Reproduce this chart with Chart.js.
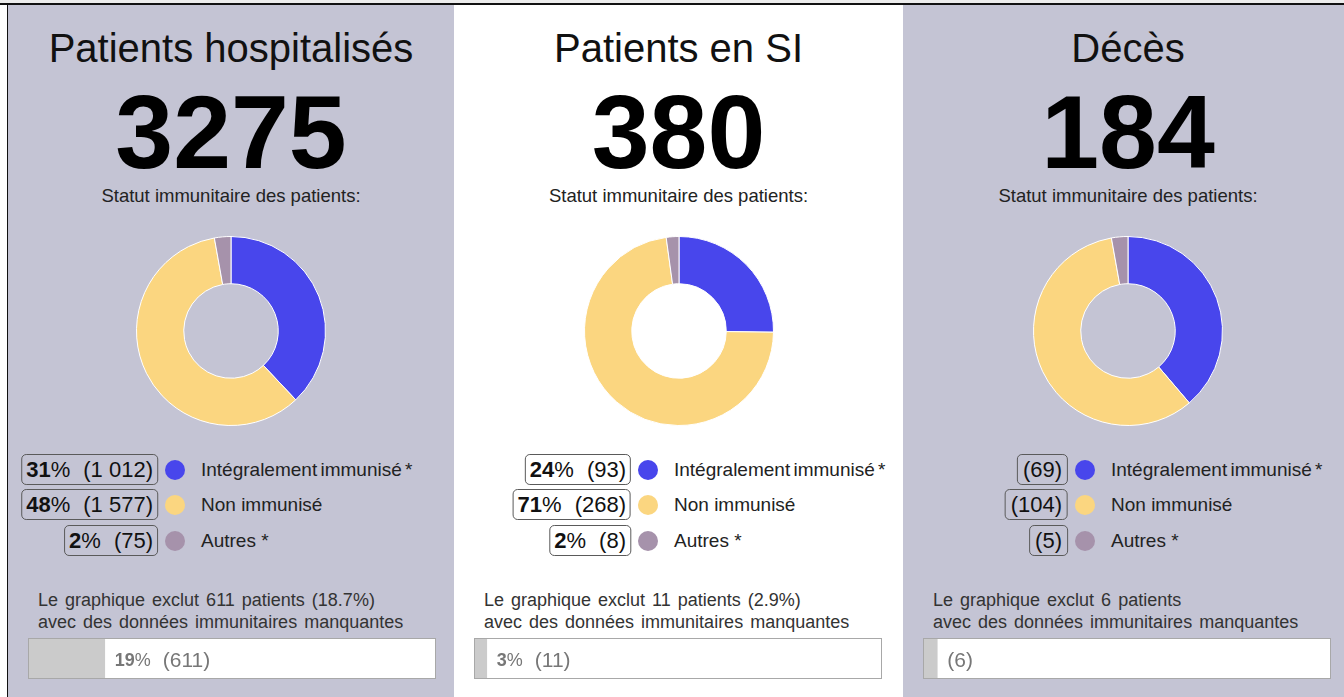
<!DOCTYPE html>
<html>
<head>
<meta charset="utf-8">
<script src="https://cdn.jsdelivr.net/npm/chart.js@4.4.0/dist/chart.umd.min.js"></script>
<style>
  body { margin: 0; width: 1344px; height: 697px; overflow: hidden; background: #ececec; position: relative;
         font-family: "Liberation Sans", Arial, sans-serif; }
  #topline { position: absolute; left: 0; top: 3px; width: 1344px; height: 2px; background: #111; }
  #leftwhite { position: absolute; left: 0; top: 5px; width: 7px; height: 692px; background: #fff; }
  #leftline { position: absolute; left: 7px; top: 3px; width: 1px; height: 694px; background: #111; }
  .panel { position: absolute; top: 5px; height: 692px; overflow: hidden; }
  .title { position: absolute; left: 0; right: 0; text-align: center; font-size: 40px; line-height: 1; color: #111; top: 23px; }
  .big { position: absolute; left: 0; right: 0; text-align: center; font-size: 104px; font-weight: bold; line-height: 80px; height: 80px; color: #000; top: 87px; }
  .sub { position: absolute; left: 0; right: 0; text-align: center; font-size: 18.5px; line-height: 1; color: #222; top: 182px; }
  .donut { position: absolute; }
  .row { position: absolute; height: 32px; }
  .box { position: absolute; top: 0; height: 29px; border: 1.5px solid #5a5a5a; border-radius: 5px; padding: 0 4px;
         font-size: 22px; line-height: 29px; color: #111; white-space: nowrap; transform: translateX(-100%); }
  .box b { font-weight: bold; }
  .dot { position: absolute; top: 6px; width: 20px; height: 20px; border-radius: 50%; }
  .lab { position: absolute; top: 0; font-size: 19px; line-height: 32px; color: #222; white-space: nowrap; }
  .note { position: absolute; left: 30px; top: 585px; font-size: 18px; line-height: 21.5px; color: #333; word-spacing: 2px; white-space: nowrap; }
  .barbox { position: absolute; left: 20px; top: 633px; width: 406px; height: 39px; border: 1.5px solid #a8a8a8; background: #fff; }
</style>
</head>
<body>
<div id="topline"></div>
<div id="leftwhite"></div>
<div id="leftline"></div>
<script>
// données
const panelTitles = ['Patients hospitalisés', 'Patients en SI', 'Décès'];
const totals = [3275, 380, 184];
const categories = ['Intégralement immunisé *', 'Non immunisé', 'Autres *'];
const hospCounts = [1012, 1577, 75];
const siCounts = [93, 268, 8];
const decesCounts = [69, 104, 5];
const hospPct = [31, 48, 2];
const siPct = [24, 71, 2];
const decesPct = [null, null, null];
const missingCounts = [611, 11, 6];
const missingPct = [19, 3, null];
const missingPctText = ['18.7%', '2.9%', null];

const counts = [hospCounts, siCounts, decesCounts];
const pcts = [hospPct, siPct, decesPct];
const colors = ['#4846ec', '#fbd680', '#a692ab'];

// mise en page
const panelLeft = [8, 454, 903];
const panelWidth = [446, 449, 450];
const panelBg = ['#c4c4d4', '#ffffff', '#c4c4d4'];
const dotX = [167, 194, 182];
const rowTop = [448.5, 484, 519.5];

function fmt(n) {
    return String(n).replace(/\B(?=(\d{3})+(?!\d))/g, '\u00a0');
}

for (let p = 0; p < 3; p++) {
    let panel = document.createElement('div');
    panel.className = 'panel';
    panel.style.left = panelLeft[p] + 'px';
    panel.style.width = panelWidth[p] + 'px';
    panel.style.background = panelBg[p];
    document.body.appendChild(panel);

    panel.innerHTML =
        '<div class="title">' + panelTitles[p] + '</div>' +
        '<div class="big">' + totals[p] + '</div>' +
        '<div class="sub">Statut immunitaire des patients:</div>';

    // anneau
    let c = document.createElement('canvas');
    c.className = 'donut';
    c.width = 190; c.height = 190;
    c.style.left = (panelWidth[p] / 2 - 95) + 'px';
    c.style.top = '231px';
    panel.appendChild(c);
    new Chart(c.getContext('2d'), {
        type: 'doughnut',
        data: {
            labels: categories,
            datasets: [{
                data: counts[p],
                backgroundColor: colors,
                borderColor: '#ffffff',
                borderWidth: 1
            }]
        },
        options: {
            responsive: false,
            animation: false,
            cutout: '50%',
            events: [],
            plugins: { legend: { display: false }, tooltip: { enabled: false } }
        }
    });

    // légende
    for (let i = 0; i < categories.length; i++) {
        let row = document.createElement('div');
        row.className = 'row';
        row.style.top = rowTop[i] + 'px';
        row.style.left = '0px';
        row.style.width = panelWidth[p] + 'px';
        let txt = '';
        if (pcts[p][i] !== null) {
            txt += '<b>' + pcts[p][i] + '</b>%<span style="margin-left:13px">(' + fmt(counts[p][i]) + ')</span>';
        } else {
            txt += '<span style="padding:0 1px">(' + fmt(counts[p][i]) + ')</span>';
        }
        row.innerHTML =
            '<div class="box" style="left:' + (dotX[p] - 17) + 'px">' + txt + '</div>' +
            '<div class="dot" style="left:' + (dotX[p] - 10) + 'px;background:' + colors[i] + '"></div>' +
            '<div class="lab" style="left:' + (dotX[p] + 26) + 'px' + (i === 0 ? ';word-spacing:-2px' : '') + '">' + categories[i] + '</div>';
        panel.appendChild(row);
    }

    // note sur les données manquantes
    let note = document.createElement('div');
    note.className = 'note';
    note.innerHTML = 'Le graphique exclut ' + missingCounts[p] + ' patients' +
        (missingPctText[p] ? ' (' + missingPctText[p] + ')' : '') +
        '<br>avec des données immunitaires manquantes';
    panel.appendChild(note);

    // barre des manquants
    let box = document.createElement('div');
    box.className = 'barbox';
    panel.appendChild(box);
    let bc = document.createElement('canvas');
    bc.width = 406; bc.height = 39;
    bc.style.display = 'block';
    box.appendChild(bc);

    const pctLabel = missingPct[p];
    const missLabel = '(' + missingCounts[p] + ')';
    new Chart(bc.getContext('2d'), {
        type: 'bar',
        data: {
            labels: ['manquantes'],
            datasets: [{
                data: [missingCounts[p]],
                backgroundColor: '#cbcbcb',
                borderWidth: 0,
                barPercentage: 1,
                categoryPercentage: 1
            }]
        },
        options: {
            indexAxis: 'y',
            responsive: false,
            animation: false,
            events: [],
            layout: { padding: 0 },
            scales: {
                x: { display: false, min: 0, max: totals[p] },
                y: { display: false }
            },
            plugins: { legend: { display: false }, tooltip: { enabled: false } }
        },
        plugins: [{
            id: 'barLabel',
            afterDatasetsDraw(chart) {
                let bar = chart.getDatasetMeta(0).data[0];
                let ctx = chart.ctx;
                let x = bar.x + 10;
                let y = bar.y + 7;
                ctx.save();
                ctx.fillStyle = '#777';
                ctx.textBaseline = 'alphabetic';
                if (pctLabel !== null) {
                    ctx.font = 'bold 18px "Liberation Sans", Arial, sans-serif';
                    ctx.fillText(String(pctLabel), x, y);
                    x += ctx.measureText(String(pctLabel)).width;
                    ctx.font = '18px "Liberation Sans", Arial, sans-serif';
                    ctx.fillText('%', x, y);
                    x += ctx.measureText('%').width + 12;
                }
                ctx.font = '21px "Liberation Sans", Arial, sans-serif';
                ctx.fillText(missLabel, x, y + 1);
                ctx.restore();
            }
        }]
    });
}
</script>
</body>
</html>
